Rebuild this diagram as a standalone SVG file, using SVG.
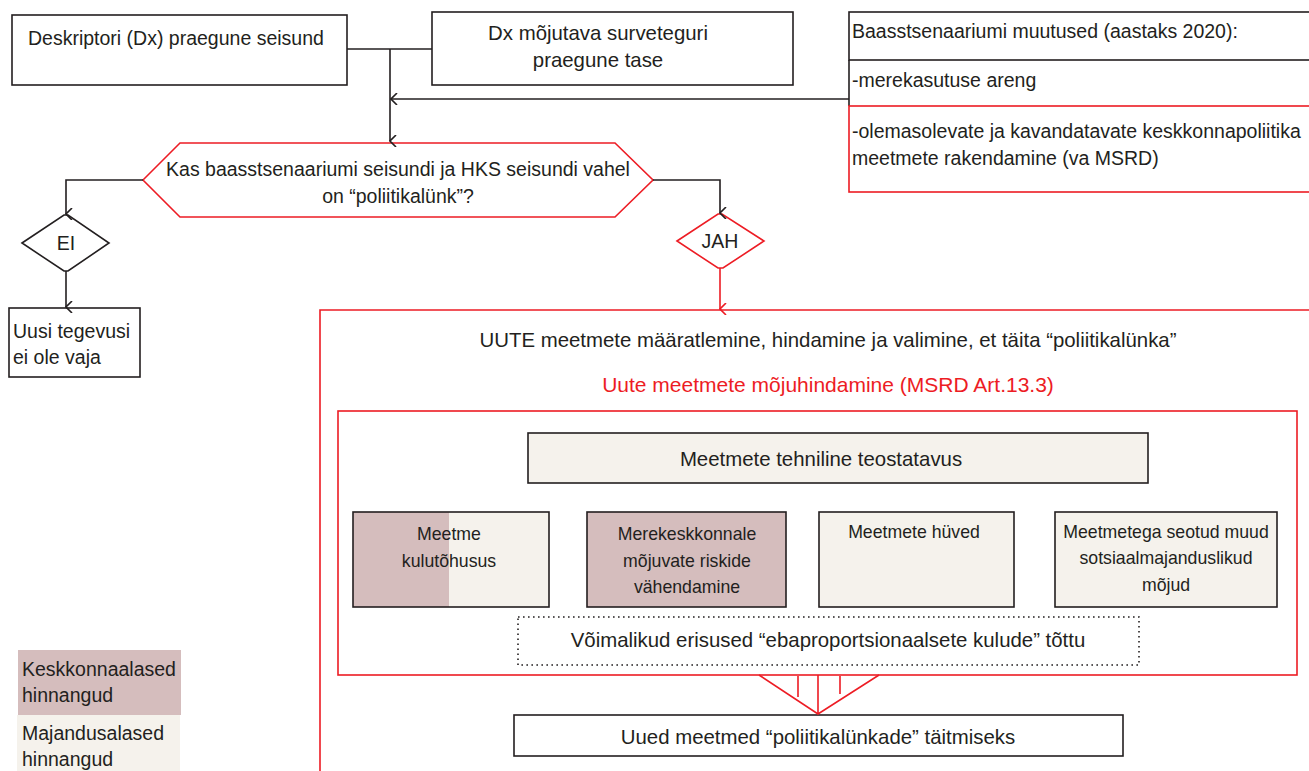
<svg xmlns="http://www.w3.org/2000/svg" width="1309" height="771" viewBox="0 0 1309 771">
<style>
text{font-family:"Liberation Sans",Arial,sans-serif;font-size:19.5px;fill:#231f20}
.c{text-anchor:middle}
.s{font-size:17.7px}
.l{font-size:20.4px}
.red{fill:#ed1c24}
.bk{fill:#fff;stroke:#231f20;stroke-width:1.6}
.rd{fill:none;stroke:#ed1c24;stroke-width:1.6}
.env{fill:#d5bdbd}
.eco{fill:#f5f2ec}
.ln{fill:none;stroke:#231f20;stroke-width:1.6}
.rl{fill:none;stroke:#ed1c24;stroke-width:1.6}
</style>
<defs>
<marker id="ab" viewBox="0 0 12 12" refX="6" refY="11" markerWidth="12" markerHeight="12" markerUnits="userSpaceOnUse" orient="auto-start-reverse">
<path d="M0,5 L6,11 L12,5" fill="none" stroke="#231f20" stroke-width="1.6"/>
</marker>
<marker id="ar" viewBox="0 0 12 12" refX="6" refY="11" markerWidth="12" markerHeight="12" markerUnits="userSpaceOnUse" orient="auto-start-reverse">
<path d="M0,5 L6,11 L12,5" fill="none" stroke="#ed1c24" stroke-width="1.6"/>
</marker>
<marker id="al" viewBox="0 0 12 12" refX="1" refY="6" markerWidth="12" markerHeight="12" markerUnits="userSpaceOnUse" orient="0">
<path d="M7,0 L1,6 L7,12" fill="none" stroke="#231f20" stroke-width="1.6"/>
</marker>
</defs>

<g id="n-deskriptor">
<rect class="bk" x="12" y="15" width="335" height="70"/>
<text x="28" y="45">Deskriptori (Dx) praegune seisund</text>
</g>
<g id="n-survetegur">
<rect class="bk" x="432" y="12" width="361" height="73"/>
<text class="c l" x="598" y="40">Dx mõjutava surveteguri</text>
<text class="c l" x="598" y="67">praegune tase</text>
</g>
<g id="n-baas">
<rect class="bk" x="849" y="12" width="470" height="48"/>
<text x="852" y="38">Baasstsenaariumi muutused (aastaks 2020):</text>
<path class="ln" d="M849,60 V106"/>
<text x="852" y="87">-merekasutuse areng</text>
<rect class="rd" x="849" y="106" width="470" height="86" style="fill:#fff"/>
<text x="852" y="138">-olemasolevate ja kavandatavate keskkonnapoliitika</text>
<text x="852" y="165">meetmete rakendamine (va MSRD)</text>
</g>
<g id="n-kusimus">
<polygon class="rd" style="fill:#fff" points="143,180 180,143 615,143 653,180 615,217 180,217"/>
<text class="c" x="398" y="176">Kas baasstsenaariumi seisundi ja HKS seisundi vahel</text>
<text class="c" x="398" y="203">on “poliitikalünk”?</text>
</g>
<g id="n-ei">
<polygon class="bk" points="22,243 64,215 68,215 109,243 68,271 64,271"/>
<text class="c" x="66" y="250">EI</text>
</g>
<g id="n-uusi">
<rect class="bk" x="9" y="308" width="131" height="69"/>
<text x="13" y="338">Uusi tegevusi</text>
<text x="13" y="364">ei ole vaja</text>
</g>
<g id="n-jah">
<polygon class="rd" style="fill:#fff" points="677,241 718,214 722,214 764,241 723,268 718,268"/>
<text class="c" x="720" y="248">JAH</text>
</g>
<g id="n-uute">
<path class="rd" d="M1320,310 H320 V780"/>
<text class="c l" x="828" y="347">UUTE meetmete määratlemine, hindamine ja valimine, et täita “poliitikalünka”</text>
<text class="c red" x="828" y="392" style="font-size:21px">Uute meetmete mõjuhindamine (MSRD Art.13.3)</text>
</g>
<g id="n-mojuhindamine">
<rect class="rd" x="338" y="411" width="959" height="264"/>
</g>
<g id="n-tehniline">
<rect class="bk eco" x="528" y="433" width="620" height="50"/>
<text class="c l" x="821" y="466">Meetmete tehniline teostatavus</text>
</g>
<g id="n-kulutohusus">
<rect class="env" x="353" y="512" width="96" height="95"/>
<rect class="eco" x="449" y="512" width="100" height="95"/>
<rect class="ln" x="353" y="512" width="196" height="95"/>
<text class="c s" x="449" y="540">Meetme</text>
<text class="c s" x="449" y="567">kulutõhusus</text>
</g>
<g id="n-riskid">
<rect class="bk env" x="587" y="512" width="199" height="95"/>
<text class="c s" x="687" y="540">Merekeskkonnale</text>
<text class="c s" x="687" y="567">mõjuvate riskide</text>
<text class="c s" x="687" y="593">vähendamine</text>
</g>
<g id="n-huved">
<rect class="bk eco" x="819" y="512" width="195" height="95"/>
<text class="c s" x="914" y="538">Meetmete hüved</text>
</g>
<g id="n-sotsiaal">
<rect class="bk eco" x="1055" y="512" width="222" height="95"/>
<text class="c s" x="1166" y="538">Meetmetega seotud muud</text>
<text class="c s" x="1166" y="564">sotsiaalmajanduslikud</text>
<text class="c s" x="1166" y="591">mõjud</text>
</g>
<g id="n-erisused">
<rect x="518" y="617" width="621" height="48" fill="none" stroke="#231f20" stroke-width="1.6" stroke-dasharray="1.6,3.4"/>
<text class="c l" x="828" y="647">Võimalikud erisused “ebaproportsionaalsete kulude” tõttu</text>
</g>
<g id="n-uued">
<rect class="bk" x="514" y="715" width="609" height="41"/>
<text class="c l" x="818" y="744">Uued meetmed “poliitikalünkade” täitmiseks</text>
</g>
<g id="n-legend">
<rect class="env" x="18" y="650" width="163" height="65"/>
<text x="22" y="676">Keskkonnaalased</text>
<text x="22" y="702">hinnangud</text>
<rect class="eco" x="17" y="715" width="163" height="56"/>
<text x="22" y="740">Majandusalased</text>
<text x="22" y="766">hinnangud</text>
</g>

<g id="connectors">
<path class="ln" d="M347,49 H432"/>
<path class="ln" d="M390,49 V141" marker-end="url(#ab)"/>
<path class="ln" d="M849,99 H391" marker-end="url(#al)"/>
<path class="ln" d="M143,180 H66 V214" marker-end="url(#ab)"/>
<path class="ln" d="M66,271 V307" marker-end="url(#ab)"/>
<path class="ln" d="M653,180 H720 V213" marker-end="url(#ab)"/>
<path class="rl" d="M720,268 V309" marker-end="url(#ar)"/>
<path class="rl" d="M759,675 L818,714 L879,675 M818,675 V714 M798,676 V697 M840,676 V694"/>
</g>
</svg>
